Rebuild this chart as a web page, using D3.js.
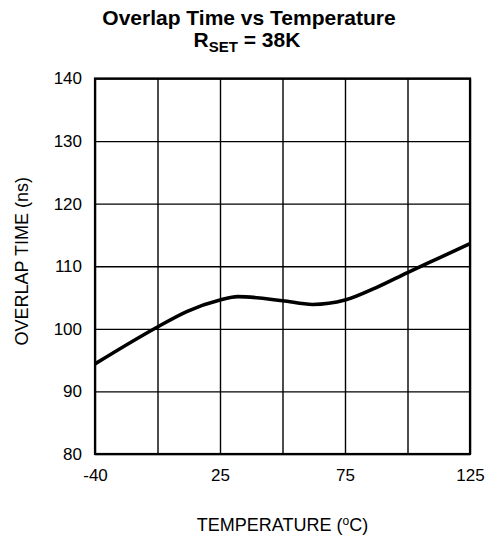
<!DOCTYPE html>
<html>
<head>
<meta charset="utf-8">
<script src="https://cdn.jsdelivr.net/npm/d3@7"></script>
<style>
  body { margin: 0; background: #fff; }
  svg text { font-family: "Liberation Sans", Arial, sans-serif; fill: #000; }
</style>
</head>
<body>
<svg id="chart" width="498" height="541"></svg>
<script>
// curve (temperature in degC, overlap time in ns)
var temps  = [-40, -7.5, 8, 25, 32, 50, 62, 75, 87.5, 100, 112.5, 125];
var values = [94.4, 100.3, 102.8, 104.6, 105.15, 104.5, 103.9, 104.6, 106.6, 109.0, 111.3, 113.6];

// axis scale is not uniform: labelled stops sit every two grid columns
var xStops   = [-40, 25, 75, 125];
var xGrid    = [-40, -7.5, 25, 50, 75, 100, 125];
var xLabels  = ["-40", "25", "75", "125"];
var yTicks   = [80, 90, 100, 110, 120, 130, 140];

var margin = {left: 95, top: 78.5, right: 28, bottom: 87};
var W = 498, H = 541;
var pw = W - margin.left - margin.right;
var ph = H - margin.top - margin.bottom;

var svg = d3.select("#chart");
var g = svg.append("g")
    .attr("transform", "translate(" + margin.left + "," + margin.top + ")");

var x = d3.scaleLinear()   /// piecewise, one segment per labelled stop
    .domain(xStops)
    .range(xStops.map((d, i) => i * pw / (xStops.length - 1)));
var y = d3.scaleLinear()
    .domain([80, 140])
    .range([ph, 0]);

/// grid + tick labels
var xa = g.append("g")
    .attr("transform", "translate(0," + ph + ")")
    .call(d3.axisBottom(x)
        .tickValues(xGrid)
        .tickSize(-ph)
        .tickPadding(15)
        .tickFormat(d => {
            var k = xStops.indexOf(d);
            return k >= 0 ? xLabels[k] : "";
        }));
var ya = g.append("g")
    .call(d3.axisLeft(y)
        .tickValues(yTicks)
        .tickSize(-pw)
        .tickPadding(13)
        .tickFormat(d3.format("d")));

[xa, ya].forEach(a => {
    a.select(".domain").remove();
    a.selectAll(".tick line").attr("stroke", "#000").attr("stroke-width", 1.4);
    a.selectAll(".tick text")
        .attr("font-size", "17px")
        .attr("font-family", "Liberation Sans, Arial, sans-serif");
});

/// frame
g.append("rect")
    .attr("x", 0).attr("y", 0)
    .attr("width", pw).attr("height", ph)
    .attr("fill", "none")
    .attr("stroke", "#000")
    .attr("stroke-width", 2.2);

/// curve
var line = d3.line()
    .x((d, i) => x(temps[i]))
    .y(d => y(d))
    .curve(d3.curveMonotoneX);

g.append("path")
    .datum(values)
    .attr("d", line)
    .attr("fill", "none")
    .attr("stroke", "#000")
    .attr("stroke-width", 3.6)
    .attr("stroke-linejoin", "round");

/// titles
svg.append("text")
    .attr("x", 249).attr("y", 25)
    .attr("text-anchor", "middle")
    .attr("font-size", "21px")
    .attr("font-weight", "bold")
    .text("Overlap Time vs Temperature");

var t2 = svg.append("text")
    .attr("x", 247).attr("y", 47)
    .attr("text-anchor", "middle")
    .attr("font-size", "21px")
    .attr("font-weight", "bold");
t2.append("tspan").text("R");
t2.append("tspan").attr("font-size", "15px").attr("dy", 5).text("SET");
t2.append("tspan").attr("dy", -5).text(" = 38K");

svg.append("text")
    .attr("x", margin.left + pw / 2).attr("y", 531)
    .attr("text-anchor", "middle")
    .attr("font-size", "18px")
    .text("TEMPERATURE (")
    .append("tspan").attr("font-size", "12px").attr("dy", -6).text("o")
    .select(function () { return this.parentNode; })
    .append("tspan").attr("dy", 6).text("C)");

svg.append("text")
    .attr("transform", "translate(28," + (margin.top + ph / 2 - 5) + ") rotate(-90)")
    .attr("text-anchor", "middle")
    .attr("font-size", "18px")
    .text("OVERLAP TIME (ns)");
</script>
</body>
</html>
